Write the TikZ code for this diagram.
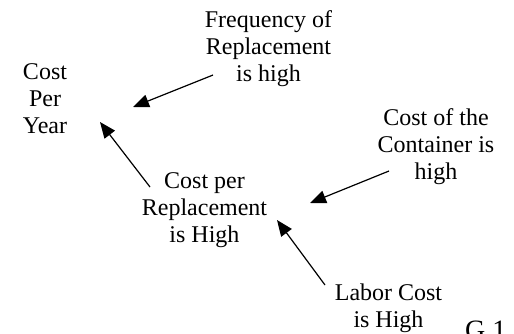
\documentclass[tikz,border=0pt]{standalone}
\usepackage{fontspec}
\setmainfont{Liberation Serif}
\usetikzlibrary{arrows.meta}
\begin{document}
\begin{tikzpicture}[x=1pt,y=-1pt,
  lbl/.style={font=\fontsize{24}{27}\selectfont, align=center, inner sep=0pt, anchor=north},
  link/.style={line width=1.2pt, -{Triangle[length=16pt,width=13pt]}}]
\useasboundingbox (0,0) rectangle (514,333);
\node[lbl] (cpy)  at (45,60.1)   {Cost\strut\\Per\strut\\Year\strut};
\node[lbl] (freq) at (268.5,8.1) {Frequency of\strut\\Replacement\strut\\is high\strut};
\node[lbl] (cont) at (436,106.1) {Cost of the\strut\\Container is\strut\\high\strut};
\node[lbl] (cpr)  at (204.5,169.1) {Cost per\strut\\Replacement\strut\\is High\strut};
\node[lbl] (lab)  at (388.5,281.1) {Labor Cost\strut\\is High\strut};
\node[font=\fontsize{28}{30}\selectfont, inner sep=0pt, anchor=base west] (g1) at (465,339) {G 1};
\coordinate (a1s) at (213,75);  \coordinate (a1e) at (133,107);
\coordinate (a2s) at (150,187); \coordinate (a2e) at (100,122);
\coordinate (a3s) at (389,171); \coordinate (a3e) at (310,203);
\coordinate (a4s) at (325,285); \coordinate (a4e) at (277,220);
\draw[link] (a1s) -- (a1e);
\draw[link] (a2s) -- (a2e);
\draw[link] (a3s) -- (a3e);
\draw[link] (a4s) -- (a4e);
\end{tikzpicture}
\end{document}
